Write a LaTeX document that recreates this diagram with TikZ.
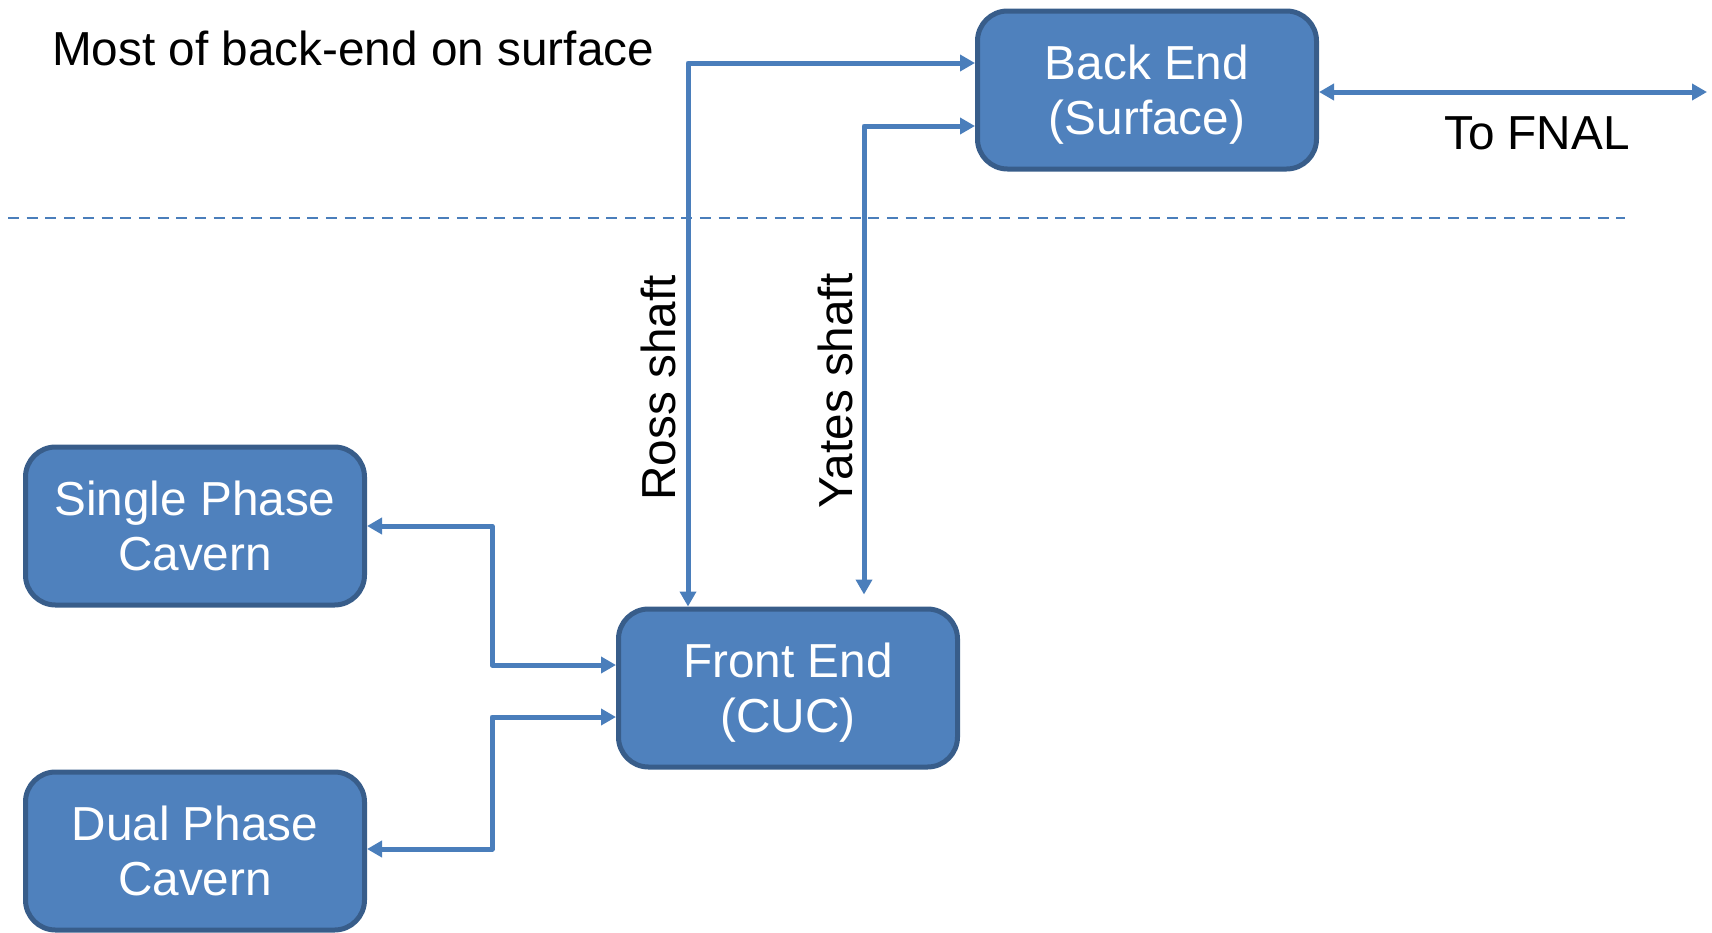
\documentclass[tikz,border=0pt]{standalone}
\usepackage{fontspec}
\setmainfont{Liberation Sans}
\usetikzlibrary{arrows.meta}
\definecolor{boxblue}{HTML}{4F81BD}
\definecolor{boxedge}{HTML}{385D8A}
\definecolor{linkblue}{HTML}{4A7EBB}
\begin{document}
\begin{tikzpicture}[x=1pt,y=-1pt,
  font=\fontsize{47.7}{55}\selectfont,
  block/.style={draw=boxedge,fill=boxblue,line width=5pt,rounded corners=30pt,
    minimum width=339pt,minimum height=158pt,text=white,align=center},
  link/.style={draw=linkblue,line width=5pt,line join=round,
    arrows={Triangle[length=15pt,width=16pt]-Triangle[length=15pt,width=16pt]}},
  label/.style={inner sep=0pt}]
  \useasboundingbox (0,0) rectangle (1712,932);
  \node[block] (backend) at (1147,90) {Back End\\\smash{(}Surface\smash{)}};
  \node[block] (frontend) at (788,688) {Front End\\\smash{(}CUC\smash{)}};
  \node[block] (single) at (195,526) {Single Phase\\Cavern};
  \node[block] (dual) at (195,851) {Dual Phase\\Cavern};
  \coordinate (fnal) at (1707,92);
  % surface / underground divide
  \draw[linkblue,line width=2.7pt,dash pattern=on 11pt off 7.7pt] (8,218) -- (1625,218);
  \node[label,anchor=west] (surface) at (52,48) {Most of back-end on surface};
  % shafts
  \draw[link] (frontend.north -| 688,0) -- (688,63) -- (backend.west |- 0,63);
  \draw[link,shorten >=12pt] (backend.west |- 0,126) -- (864,126) -- (frontend.north -| 864,0);
  \node[label,rotate=90] (ross) at (658,388) {Ross shaft};
  \node[label,rotate=90] (yates) at (835,391) {Yates shaft};
  % to FNAL
  \draw[link] (backend.east |- fnal) -- (fnal);
  \node[label] (tofnal) at (1537,133) {To FNAL};
  % caverns
  \draw[link] (single.east) -- (492,526) -- (492,665) -- (frontend.west |- 0,665);
  \draw[link] (dual.east |- 0,849) -- (492,849) -- (492,717) -- (frontend.west |- 0,717);
\end{tikzpicture}
\end{document}
